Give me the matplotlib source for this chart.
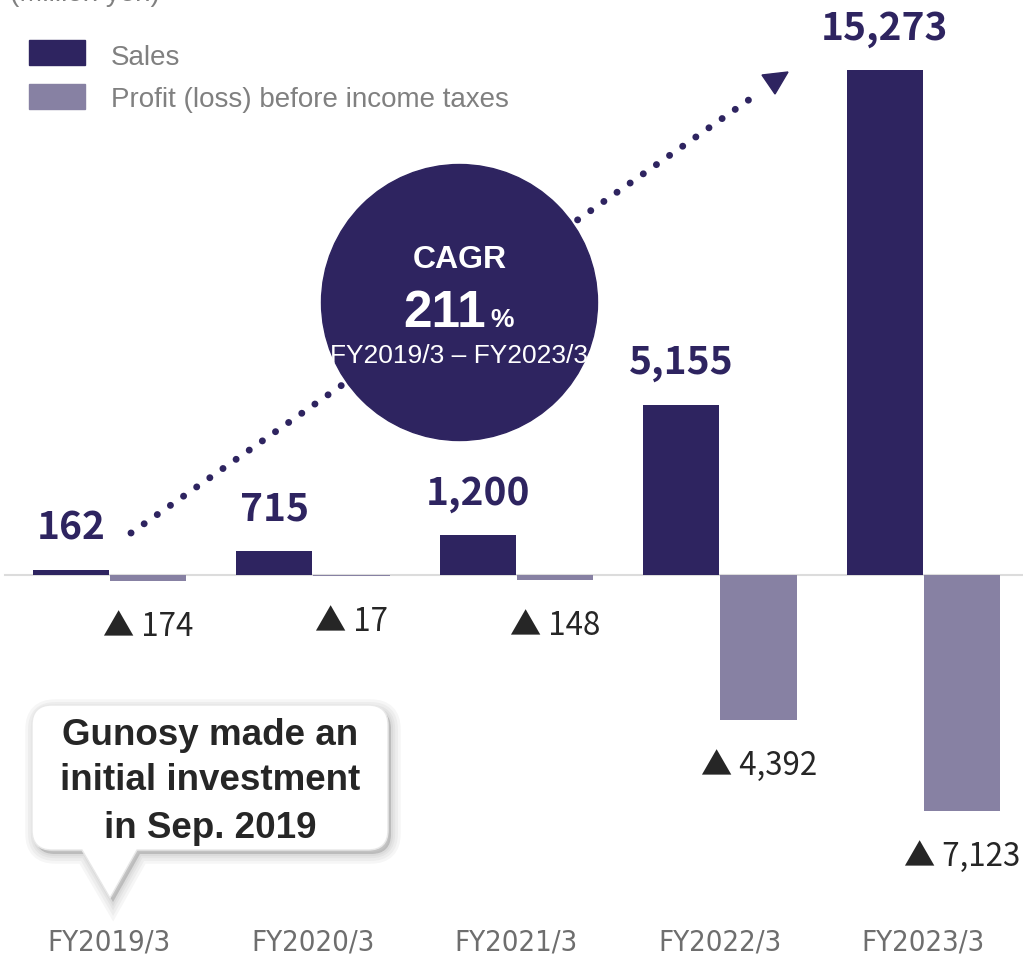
import numpy as np
import matplotlib.pyplot as plt
from matplotlib.patches import Circle, Rectangle, PathPatch, Polygon
from matplotlib.path import Path
from matplotlib.transforms import Affine2D

# データ
years = ["FY2019/3", "FY2020/3", "FY2021/3", "FY2022/3", "FY2023/3"]
sales = [162, 715, 1200, 5155, 15273]
profit = [-174, -17, -148, -4392, -7123]
series = ["Sales", "Profit (loss) before income taxes"]
unit = "(Million yen)"
cagr = "211"
cagr_span = "FY2019/3 – FY2023/3"
note = "Gunosy made an\ninitial investment\nin Sep. 2019"

navy = "#2E2460"
lilac = "#8781A3"
grey = "#808080"
num_font = ["Noto Sans CJK JP", "DejaVu Sans"]
arial = ["Liberation Sans", "DejaVu Sans"]

fig = plt.figure(figsize=(10.23, 9.58), dpi=100)

# 棒グラフ本体
ax = fig.add_axes([0, 0, 1, 1])
x = np.arange(len(years))
w = 0.375
off = 0.19
ax.bar(x - off, sales, w, color=navy, zorder=3)
ax.bar(x + off, profit, w, color=lilac, zorder=3)
ax.axhline(0, xmin=0.005, color="#dcdcdc", lw=1.5, zorder=2)
ax.set_xlim(-0.538, 4.489)
ax.set_ylim(-11582, 17388)
ax.axis("off")

for i in x:
    ax.annotate(f"{sales[i]:,}", (i - off, sales[i]), xytext=(0, 22),
                textcoords="offset points", ha="center", va="baseline",
                fontsize=28, fontweight="bold", color=navy, family=num_font)
    ax.annotate(f"▲ {-profit[i]:,}", (i + off, profit[i]), xytext=(0, -39.6),
                textcoords="offset points", ha="center", va="baseline",
                fontsize=22.5, color="#262626", family=num_font)
    ax.text(i, 0.0157, years[i], transform=ax.get_xaxis_transform(),
            ha="center", va="center", fontsize=21, color="#6e6e6e",
            family="DejaVu Sans", fontstretch="condensed")

# 装飾用のレイヤー (ピクセル座標)
ov = fig.add_axes([0, 0, 1, 1], zorder=5)
ov.set_xlim(0, 1023)
ov.set_ylim(958, 0)
ov.axis("off")

# 凡例
ov.add_patch(Rectangle((29, 40), 56, 25, color=navy))
ov.add_patch(Rectangle((29, 84), 56, 25, color=lilac))
ov.text(111, 65, series[0], va="baseline", fontsize=20, color=grey, family=arial)
ov.text(111, 107, series[1], va="baseline", fontsize=20, color=grey, family=arial)
ov.text(10, 1, unit, va="baseline", fontsize=20, color=grey, family=arial)

# 点線の矢印
ov.plot([131, 760], [533, 92], color=navy, lw=5, linestyle=(0, (0.01, 2.3)),
        dash_capstyle="round", zorder=1)
ov.add_patch(Polygon([(762, 75), (788, 72), (775, 94)], color=navy, zorder=1))

# CAGRの円
ov.add_patch(Circle((459.5, 302.5), 138, color=navy, zorder=3))
ov.text(459.5, 268, "CAGR", ha="center", va="baseline", fontsize=23,
        fontweight="bold", color="white", family=arial, zorder=4)
ov.text(486, 327, cagr, ha="right", va="baseline", fontsize=37,
        fontweight="bold", color="white", family=arial, zorder=4)
ov.text(490, 327, "%", ha="left", va="baseline", fontsize=19,
        fontweight="bold", color="white", family=arial, zorder=4)
ov.text(459.5, 363, cagr_span, ha="center", va="baseline", fontsize=19,
        color="white", family=arial, zorder=4)

# 吹き出し
L, R, T, B, r = 32, 388, 705, 850, 20
verts = [(L + r, T), (R - r, T), (R, T), (R, T + r), (R, B - r), (R, B), (R - r, B),
         (137, B), (110, 898), (82, B), (L + r, B), (L, B), (L, B - r),
         (L, T + r), (L, T), (L + r, T), (L + r, T)]
codes = [Path.MOVETO, Path.LINETO, Path.CURVE3, Path.CURVE3, Path.LINETO,
         Path.CURVE3, Path.CURVE3, Path.LINETO, Path.LINETO, Path.LINETO,
         Path.LINETO, Path.CURVE3, Path.CURVE3, Path.LINETO, Path.CURVE3,
         Path.CURVE3, Path.CLOSEPOLY]
bubble = Path(verts, codes)
shadow = bubble.transformed(Affine2D().translate(3, 4))
for lw in [14, 10, 6, 3]:
    ov.add_patch(PathPatch(shadow, fc=(0, 0, 0, 0.035), ec=(0, 0, 0, 0.035),
                           lw=lw, zorder=6))
ov.add_patch(PathPatch(bubble, fc="white", ec="#e8e8e8", lw=1, zorder=7))
lines = note.split("\n")
for line, yb in zip(lines, [745, 790, 838]):
    ov.text(210, yb, line, ha="center", va="baseline", fontsize=26.5,
            fontweight="bold", color="#262626", family=arial, zorder=8)

plt.savefig("out.png", dpi=100)
